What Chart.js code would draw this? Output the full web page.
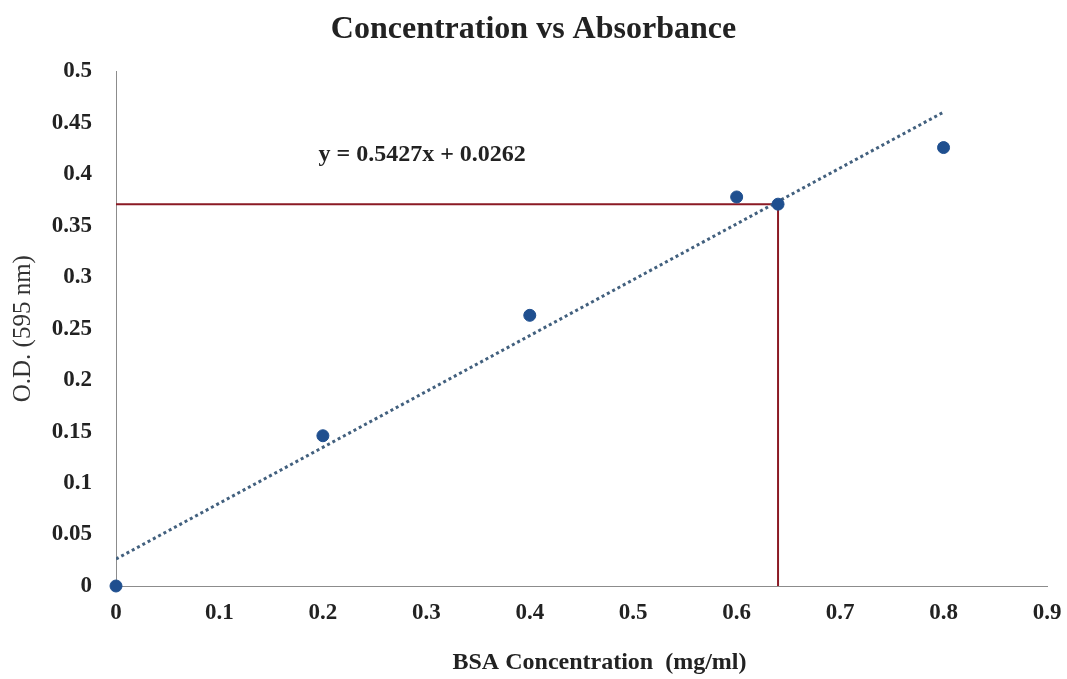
<!DOCTYPE html>
<html lang="en">
<head>
    <meta charset="UTF-8">
    <title>Concentration vs Absorbance</title>
    <style>
        html, body { margin: 0; padding: 0; background: #fff; }
        #wrap { width: 1067px; height: 679px; }
    </style>
    <script src="https://cdn.jsdelivr.net/npm/chart.js@4.4.6/dist/chart.umd.min.js"></script>
</head>
<body>
    <div id="wrap"><canvas id="stdCurve"></canvas></div>
    <script>
        // standard curve readings (BSA, mg/ml vs O.D. at 595 nm)
        const concentration = [0, 0.2, 0.4, 0.6, 0.64, 0.8];
        const absorbance = [0, 0.146, 0.263, 0.378, 0.371, 0.426];

        // linear trendline ends
        const trendX = [0, 0.8];
        const trendY = [0.0262, 0.4604];

        // red guide lines for the unknown sample
        const guideX = [0, 0.64, 0.64];
        const guideY = [0.371, 0.371, 0];

        const equationText = 'y = 0.5427x + 0.0262';
        const xTicks = [0, 0.1, 0.2, 0.3, 0.4, 0.5, 0.6, 0.7, 0.8, 0.9];
        const yTicks = [0, 0.05, 0.1, 0.15, 0.2, 0.25, 0.3, 0.35, 0.4, 0.45, 0.5];

        const serif = '"Liberation Serif", "Times New Roman", serif';

        const toPoints = (xs, ys) => xs.map((x, i) => ({ x: x, y: ys[i] }));
        // 0.50 -> 0.5, 0.40 -> 0.4
        const plainNum = v => String(Math.round(v * 1000) / 1000);

        // writes the trendline equation at a spot given in data units
        const equationLabel = {
            id: 'equationLabel',
            afterDatasetsDraw(chart) {
                const ctx = chart.ctx;
                const px = chart.scales.x.getPixelForValue(0.296);
                const py = chart.scales.y.getPixelForValue(0.419);
                ctx.save();
                ctx.font = 'bold 24px ' + serif;
                ctx.fillStyle = '#222';
                ctx.textAlign = 'center';
                ctx.textBaseline = 'middle';
                ctx.fillText(equationText, px, py);
                ctx.restore();
            }
        };

        new Chart(document.getElementById('stdCurve'), {
            type: 'scatter',
            data: {
                datasets: [
                    {
                        label: 'guide',
                        type: 'line',
                        data: toPoints(guideX, guideY),
                        borderColor: '#8b1a24',
                        borderWidth: 2,
                        pointRadius: 0,
                        fill: false,
                        order: 3
                    },
                    {
                        label: 'trend',
                        type: 'line',
                        data: toPoints(trendX, trendY),
                        borderColor: '#42607e',
                        borderWidth: 3,
                        borderDash: [3, 3],
                        pointRadius: 0,
                        fill: false,
                        order: 2
                    },
                    {
                        label: 'OD',
                        data: toPoints(concentration, absorbance),
                        backgroundColor: '#1f4f8f',
                        borderColor: '#1f4f8f',
                        pointRadius: 6,
                        pointHoverRadius: 6,
                        clip: false,
                        order: 1
                    }
                ]
            },
            options: {
                responsive: true,
                maintainAspectRatio: false,
                animation: false,
                layout: { padding: 0 },
                plugins: {
                    legend: { display: false },
                    tooltip: { enabled: false },
                    title: {
                        display: true,
                        text: 'Concentration vs Absorbance',
                        color: '#222',
                        font: { family: serif, size: 32, weight: 'bold' },
                        padding: { top: 11, bottom: 22 }
                    }
                },
                scales: {
                    x: {
                        type: 'linear',
                        min: 0,
                        max: 0.9,
                        afterBuildTicks: s => { s.ticks = xTicks.map(v => ({ value: v })); },
                        afterFit: s => {
                            s.height = 93;
                            s.paddingLeft = 0;
                            s.paddingRight = 20;
                        },
                        grid: { display: false, drawTicks: false },
                        border: { display: true, color: '#8c8c8c', width: 1 },
                        ticks: {
                            padding: 13,
                            color: '#222',
                            font: { family: serif, size: 23, weight: 'bold' },
                            callback: v => plainNum(v)
                        },
                        title: {
                            display: true,
                            text: '      BSA Concentration  (mg/ml)',
                            color: '#222',
                            font: { family: serif, size: 24, weight: 'bold' },
                            padding: { top: 0, bottom: 2 }
                        }
                    },
                    y: {
                        type: 'linear',
                        min: 0,
                        max: 0.5,
                        afterBuildTicks: s => { s.ticks = yTicks.map(v => ({ value: v })); },
                        afterFit: s => { s.width = 116; },
                        grid: { display: false, drawTicks: false },
                        border: { display: true, color: '#8c8c8c', width: 1 },
                        ticks: {
                            padding: 24,
                            color: '#222',
                            font: { family: serif, size: 23, weight: 'bold' },
                            callback: v => plainNum(v)
                        },
                        title: {
                            display: true,
                            text: 'O.D. (595 nm)',
                            color: '#333',
                            font: { family: serif, size: 25 },
                            padding: { top: 8, bottom: 0 }
                        }
                    }
                }
            },
            plugins: [equationLabel]
        });
    </script>
</body>
</html>
